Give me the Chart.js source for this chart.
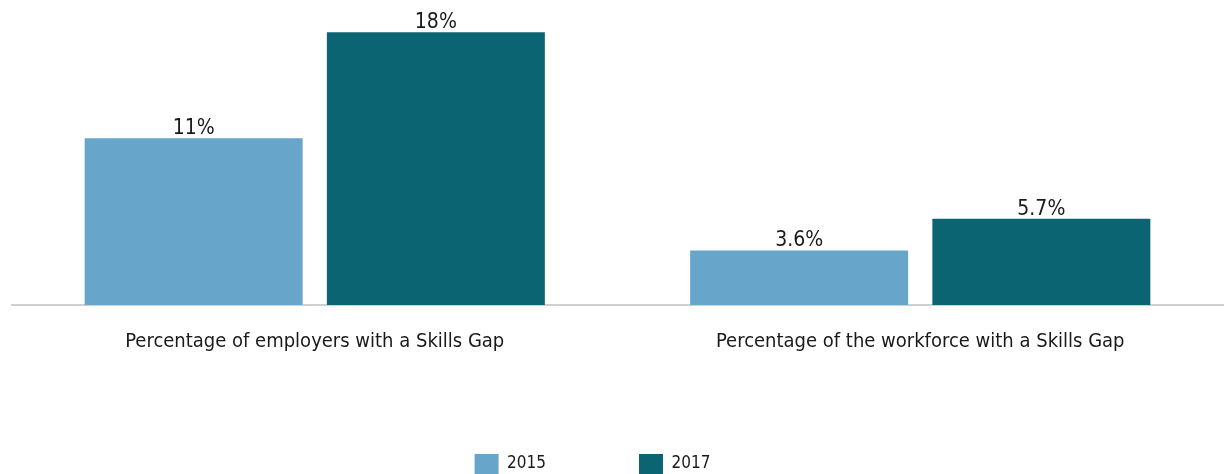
<!DOCTYPE html>
<html>
<head>
<meta charset="utf-8">
<script src="https://cdn.jsdelivr.net/npm/chart.js@4/dist/chart.umd.min.js"></script>
<style>
  html, body { margin: 0; padding: 0; background: #fff; }
  #wrap { width: 1227px; height: 474px; }
</style>
</head>
<body>
<div id="wrap"><canvas id="chart"></canvas></div>
<script>
// chart data
var categories = ['Percentage of employers with a Skills Gap', 'Percentage of the workforce with a Skills Gap'];
var years = ['2015', '2017'];
var values2015 = [11, 3.6];
var values2017 = [18, 5.7];
var valueLabels2015 = ['11%', '3.6%'];
var valueLabels2017 = ['18%', '5.7%'];

var FONT = '"DejaVu Sans Condensed", "Liberation Sans Narrow", "Noto Sans", sans-serif';

// draws the % figure above each bar
var barValuePlugin = {
  id: 'barValues',
  afterDatasetsDraw: function(chart) {
    var ctx = chart.ctx;
    ctx.save();
    ctx.font = '21px ' + FONT;
    ctx.fillStyle = '#1a1a1a';
    ctx.textAlign = 'center';
    ctx.textBaseline = 'alphabetic';
    chart.data.datasets.forEach(function(ds, i) {
      chart.getDatasetMeta(i).data.forEach(function(bar, j) {
        ctx.fillText(ds.valueLabels[j], bar.x, bar.y - 4);
      });
    });
    ctx.restore();
  }
};

// legend in the original sits a bit left of centre
var legendNudge = {
  id: 'legendNudge',
  afterLayout: function(chart) {
    if (chart.legend) {
      chart.legend.left -= 25;
      chart.legend.right -= 25;
    }
  }
};

new Chart(document.getElementById('chart'), {
  type: 'bar',
  data: {
    labels: categories,
    datasets: [{
      label: years[0],
      data: values2015,
      valueLabels: valueLabels2015,
      backgroundColor: '#68a5ca'
    }, {
      label: years[1],
      data: values2017,
      valueLabels: valueLabels2017,
      backgroundColor: '#0b6472'
    }]
  },
  options: {
    responsive: true,
    maintainAspectRatio: false,
    animation: false,
    layout: { padding: { left: 12, right: 4, top: 2, bottom: -10 } },
    datasets: {
      bar: { categoryPercentage: 0.8, barPercentage: 0.9 }
    },
    scales: {
      x: {
        grid: { display: false, drawTicks: false },
        border: { display: true, color: '#d0d0d0', width: 2 },
        ticks: { color: '#1a1a1a', padding: 25, font: { family: FONT, size: 20 } },
        afterFit: function(scale) { scale.height = 56; }
      },
      y: {
        display: false,
        min: 0,
        max: 20
      }
    },
    plugins: {
      legend: {
        position: 'bottom',
        labels: {
          boxWidth: 24,
          boxHeight: 20,
          padding: 93,
          color: '#1a1a1a',
          font: { family: FONT, size: 17 }
        }
      },
      tooltip: { enabled: false }
    }
  },
  plugins: [barValuePlugin, legendNudge]
});
</script>
</body>
</html>
